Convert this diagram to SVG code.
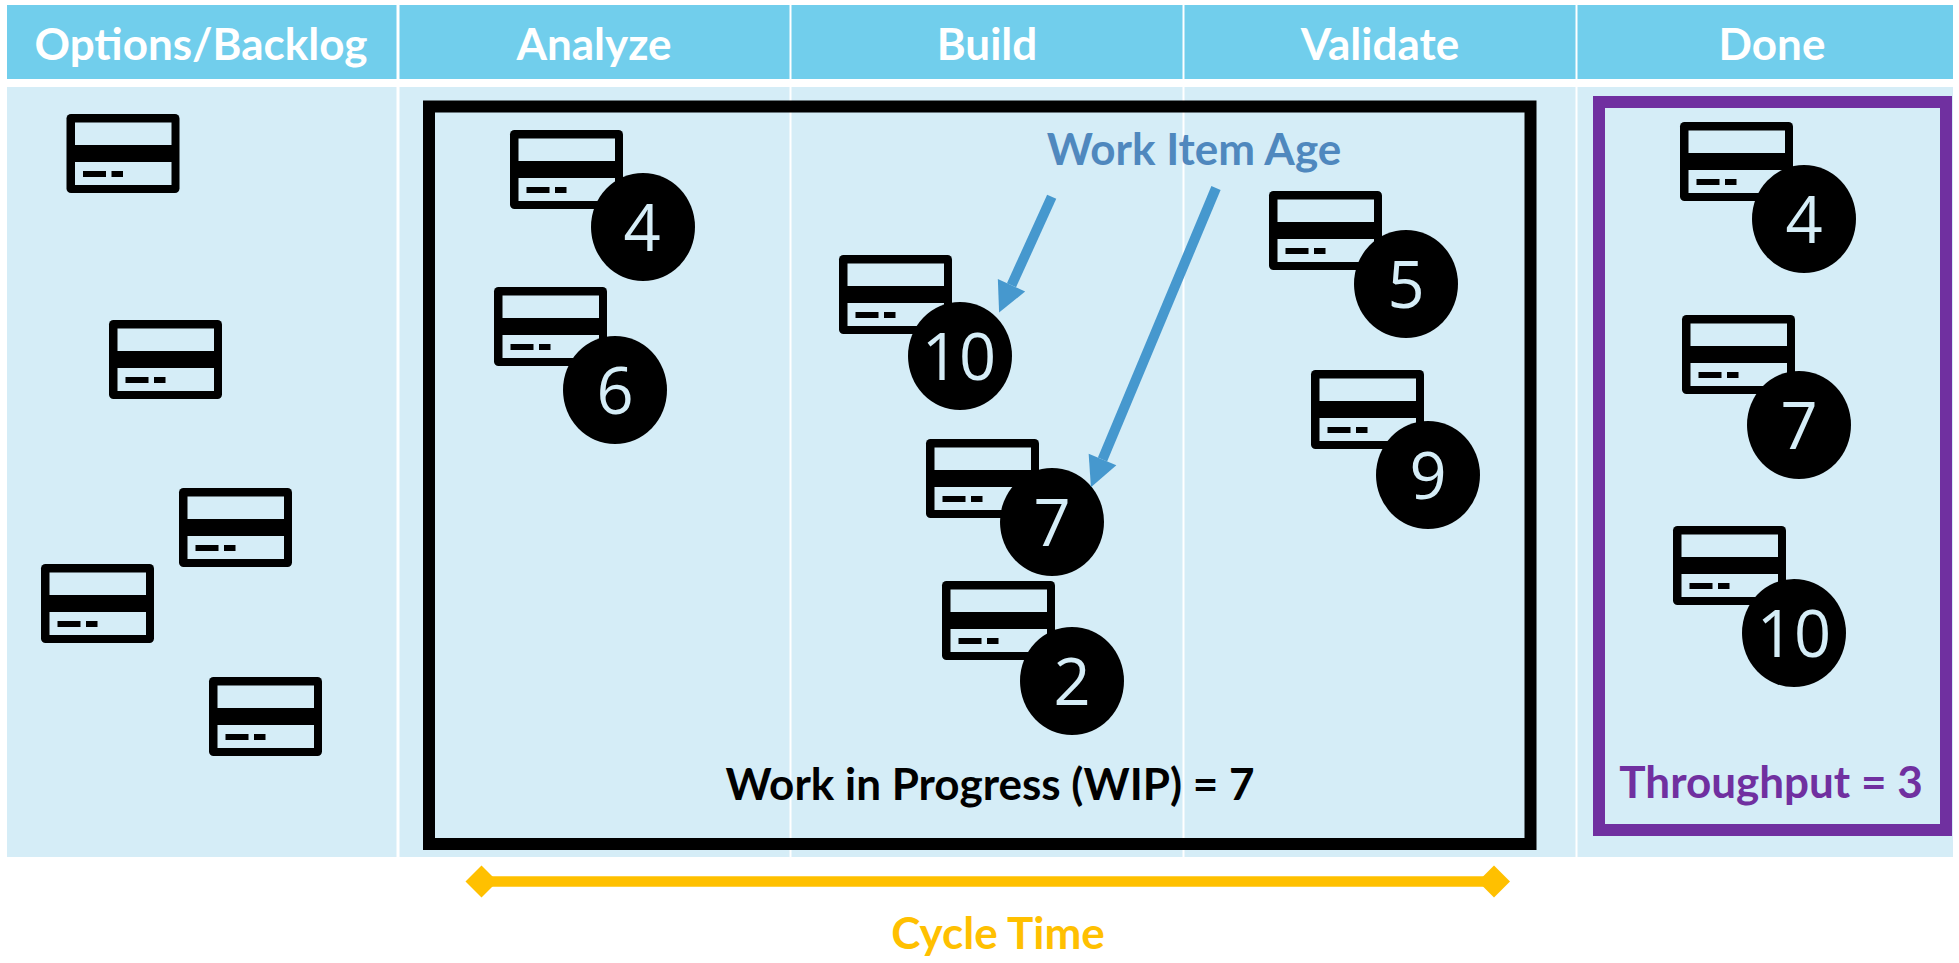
<svg xmlns="http://www.w3.org/2000/svg" width="1959" height="963" viewBox="0 0 1959 963">
<style>
.bg{fill:#fff}
.hd{fill:#71CEEC}
.col{fill:#D5EDF7}
.htext{font-family:Lato,"Liberation Sans",sans-serif;font-weight:700;font-size:44px;fill:#fff;text-anchor:middle}
.lbl{font-family:Lato,"Liberation Sans",sans-serif;font-weight:700;font-size:44px;text-anchor:middle}
.badge{fill:#000}
.num{font-family:"Open Sans","Liberation Sans",sans-serif;font-weight:500;font-size:65px;fill:#D5EDF7;text-anchor:middle}
.frame{fill:none;stroke-width:12}
.arrow{stroke:#4698CE;stroke-width:10;fill:none;marker-end:url(#head)}
.cycle{stroke:#FFC000;stroke-width:10.5;fill:none;marker-start:url(#dia);marker-end:url(#dia)}
</style>
<defs>
<marker id="head" markerUnits="userSpaceOnUse" markerWidth="32" markerHeight="32" refX="0" refY="16" orient="auto" overflow="visible"><path d="M0 1L30 16L0 31Z" fill="#4698CE"/></marker>
<marker id="dia" markerUnits="userSpaceOnUse" markerWidth="34" markerHeight="34" refX="17" refY="17" orient="auto" overflow="visible"><path d="M1 17L17 1L33 17L17 33Z" fill="#FFC000"/></marker>
<g id="card">
<rect x="0" y="0" width="113" height="79" rx="4.5" fill="#000"/>
<rect x="8.5" y="8.5" width="96.500" height="22.500" fill="#D5EDF7"/>
<rect x="8.500" y="48" width="96.500" height="23" fill="#D5EDF7"/>
<rect x="16.500" y="57" width="23" height="6" fill="#000"/>
<rect x="45" y="57" width="11.500" height="6" fill="#000"/>
</g>
</defs>
<rect class="bg" width="1959" height="963"/>
<g id="col-options"><rect class="hd" x="7" y="5" width="389.500" height="74"/><rect class="col" x="7" y="87" width="389.500" height="770"/><text class="htext" x="201" y="60">Options/Backlog</text></g>
<g id="col-analyze"><rect class="hd" x="399.500" y="5" width="390" height="74"/><rect class="col" x="399.500" y="87" width="390" height="770"/><text class="htext" x="594" y="60">Analyze</text></g>
<g id="col-build"><rect class="hd" x="791.500" y="5" width="391" height="74"/><rect class="col" x="791.500" y="87" width="391" height="770"/><text class="htext" x="987" y="60">Build</text></g>
<g id="col-validate"><rect class="hd" x="1184.500" y="5" width="391" height="74"/><rect class="col" x="1184.500" y="87" width="391" height="770"/><text class="htext" x="1380" y="60">Validate</text></g>
<g id="col-done"><rect class="hd" x="1577.500" y="5" width="375.500" height="74"/><rect class="col" x="1577.500" y="87" width="375.500" height="770"/><text class="htext" x="1772" y="60">Done</text></g>

<g id="wip-frame"><rect class="frame" stroke="#000" x="429" y="106.500" width="1101.500" height="737.500"/><text class="lbl" fill="#000" x="990" y="800">Work in Progress (WIP) = 7</text></g>
<g id="throughput-frame"><rect class="frame" stroke="#7030A0" x="1599" y="102" width="347" height="728"/><text class="lbl" fill="#7030A0" x="1771" y="798">Throughput = 3</text></g>

<g id="backlog-1"><use href="#card" x="66.500" y="114"/></g>
<g id="backlog-2"><use href="#card" x="109" y="320"/></g>
<g id="backlog-3"><use href="#card" x="179" y="488"/></g>
<g id="backlog-4"><use href="#card" x="41" y="564"/></g>
<g id="backlog-5"><use href="#card" x="209" y="677"/></g>

<g id="item-analyze-4"><use href="#card" x="510" y="130"/><ellipse class="badge" cx="643" cy="227" rx="52" ry="54"/><text class="num" x="642" y="251">4</text></g>
<g id="item-analyze-6"><use href="#card" x="494" y="287"/><ellipse class="badge" cx="615" cy="390" rx="52" ry="54"/><text class="num" x="615" y="414">6</text></g>
<g id="item-build-10"><use href="#card" x="839" y="255"/><ellipse class="badge" cx="960" cy="356" rx="52" ry="54"/><text class="num" x="959" y="380">10</text></g>
<g id="item-build-7"><use href="#card" x="926" y="439"/><ellipse class="badge" cx="1052" cy="522" rx="52" ry="54"/><text class="num" x="1052" y="546">7</text></g>
<g id="item-build-2"><use href="#card" x="942" y="581"/><ellipse class="badge" cx="1072" cy="681" rx="52" ry="54"/><text class="num" x="1072" y="705">2</text></g>
<g id="item-validate-5"><use href="#card" x="1269" y="191"/><ellipse class="badge" cx="1406" cy="284" rx="52" ry="54"/><text class="num" x="1406" y="308">5</text></g>
<g id="item-validate-9"><use href="#card" x="1311" y="370"/><ellipse class="badge" cx="1428" cy="475" rx="52" ry="54"/><text class="num" x="1428" y="499">9</text></g>
<g id="item-done-4"><use href="#card" x="1680" y="122"/><ellipse class="badge" cx="1804" cy="219" rx="52" ry="54"/><text class="num" x="1804" y="243">4</text></g>
<g id="item-done-7"><use href="#card" x="1682" y="315"/><ellipse class="badge" cx="1799" cy="425" rx="52" ry="54"/><text class="num" x="1799" y="449">7</text></g>
<g id="item-done-10"><use href="#card" x="1673" y="526"/><ellipse class="badge" cx="1794" cy="633" rx="52" ry="54"/><text class="num" x="1794" y="657">10</text></g>

<g id="label-age"><text class="lbl" fill="#4F88BE" x="1194" y="165">Work Item Age</text></g>
<g id="label-cycle"><text class="lbl" fill="#FFC000" x="998" y="949">Cycle Time</text></g>

<g id="connectors">
<line class="arrow" x1="1051.700" y1="196.700" x2="1011.500" y2="285.300"/>
<line class="arrow" x1="1216" y1="188" x2="1102.500" y2="459.500"/>
<line class="cycle" x1="481.500" y1="881.500" x2="1494" y2="881.500"/>
</g>
</svg>
